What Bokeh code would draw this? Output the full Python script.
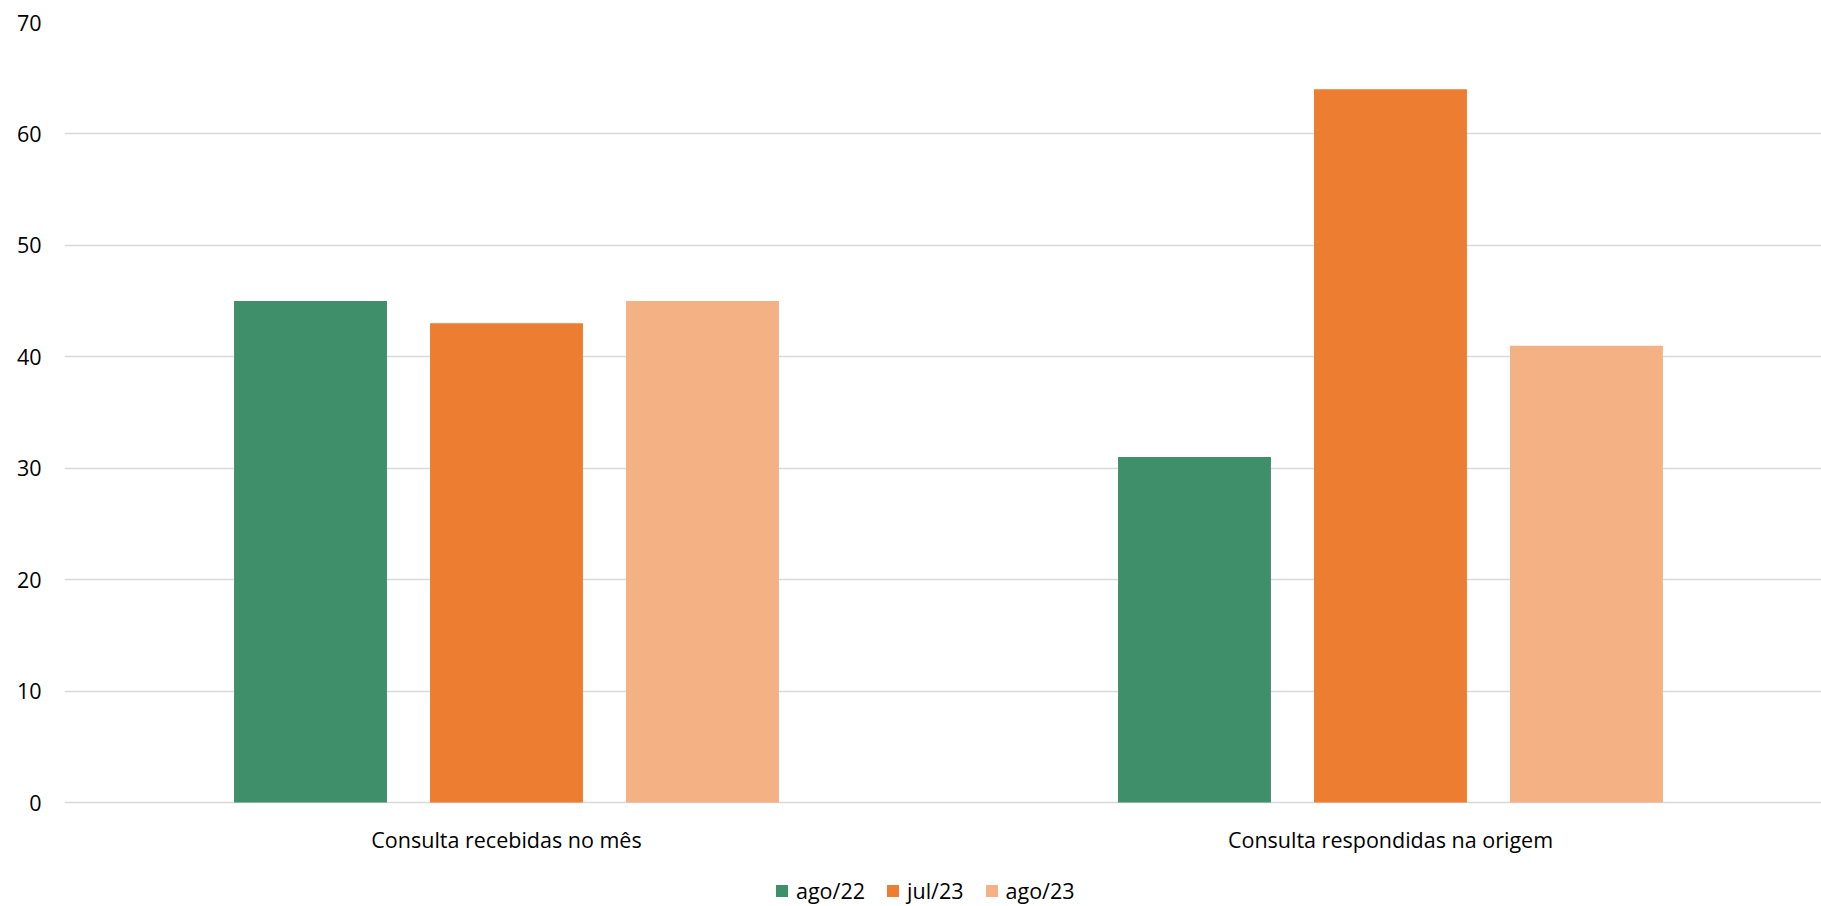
from bokeh.plotting import figure
from bokeh.models import ColumnDataSource, Range1d, FixedTicker, Legend, LegendItem
from bokeh.core.properties import value
from bokeh.transform import dodge
from bokeh.embed import file_html
from bokeh.resources import INLINE

categories = ["Consulta recebidas no mês", "Consulta respondidas na origem"]
series = ["ago/22", "jul/23", "ago/23"]
ago22 = [45, 31]
jul23 = [43, 64]
ago23 = [45, 41]
colors = ["#3F8F6A", "#ED7D31", "#F4B183"]
y_ticks = [0, 10, 20, 30, 40, 50, 60, 70]

FONT = "Open Sans"
FS = "21.5px"
x_pos = [i + 0.5 for i in range(len(categories))]
source = ColumnDataSource(dict(x=x_pos, cat=categories, ago22=ago22, jul23=jul23, ago23=ago23))

# frame: 780 px for 0..70, extended 104 px below zero for category labels and legend
px_per_unit = 780 / 70
y_bottom = -104 / px_per_unit

p = figure(width=1821, height=906, output_backend="svg", toolbar_location=None,
           x_range=Range1d(0, 1.9876), y_range=Range1d(y_bottom, 70),
           x_axis_location=None,
           min_border_left=64, min_border_right=0, min_border_top=22, min_border_bottom=0)
p.outline_line_color = None

bw = 0.173
pitch = 0.2217
renderers = []
for i, (key, col) in enumerate(zip(["ago22", "jul23", "ago23"], colors)):
    r = p.vbar(x=dodge("x", (i - 1) * pitch, range=p.x_range), top=key, bottom=0, width=bw,
               source=source, fill_color=col, line_color=None)
    renderers.append(r)

# category labels under the zero line
p.text(x="x", y=0, text="cat", source=source, text_align="center", text_baseline="middle",
       y_offset=36.5, text_font=value(FONT), text_font_size=FS, text_color="#000000")

p.yaxis.ticker = FixedTicker(ticks=y_ticks)
p.yaxis.axis_line_color = None
p.yaxis.major_tick_line_color = None
p.yaxis.minor_tick_line_color = None
p.yaxis.major_tick_out = 0
p.yaxis.major_label_standoff = 23
p.yaxis.major_label_text_font = FONT
p.yaxis.major_label_text_font_size = FS
p.yaxis.major_label_text_color = "#000000"

p.xgrid.visible = False
p.xgrid.grid_line_color = None
p.ygrid.grid_line_color = "#D9D9D9"
p.ygrid.grid_line_width = 1.5

legend = Legend(items=[LegendItem(label=s, renderers=[r]) for s, r in zip(series, renderers)],
                orientation="horizontal", location=(710, 1),
                glyph_width=15, glyph_height=15, label_standoff=7, spacing=20,
                label_text_font=FONT, label_text_font_size=FS, label_text_color="#000000",
                border_line_color=None, background_fill_alpha=0, padding=0, margin=0)
p.add_layout(legend, "center")

open("out.html", "w").write(file_html(p, INLINE))
